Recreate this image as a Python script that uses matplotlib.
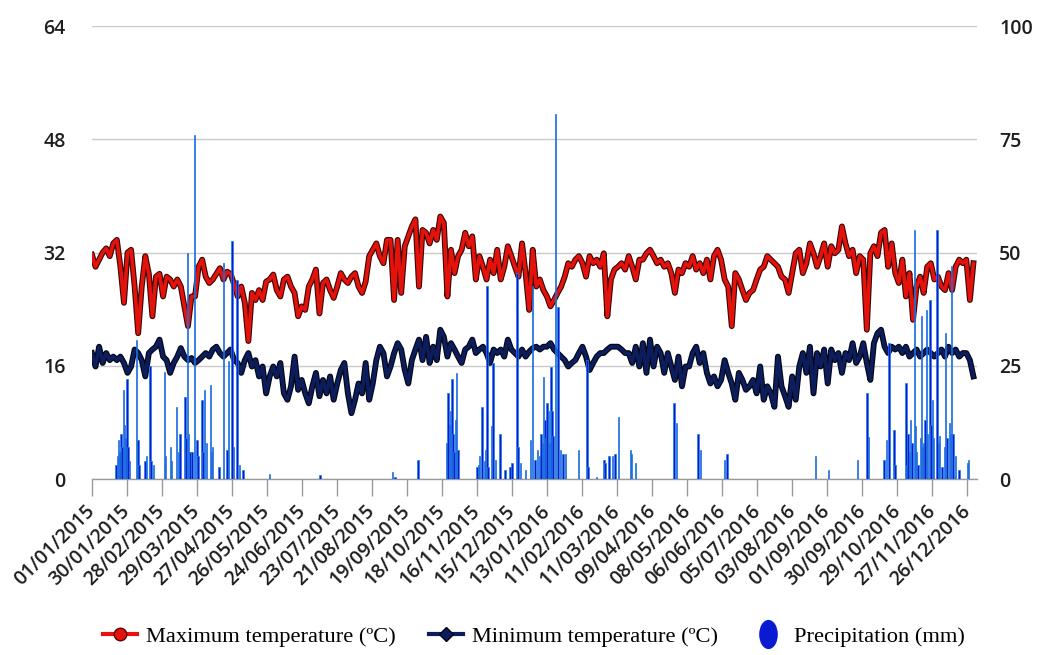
import numpy as np
import pandas as pd
import matplotlib
matplotlib.use("Agg")
import matplotlib.pyplot as plt
import matplotlib.patheffects as pe
from matplotlib.lines import Line2D
from matplotlib.path import Path

# ---------------- data ----------------
tmax = [31.7, 30, 31, 32, 32.6, 31.5, 33.3, 33.8, 30, 24.9, 32, 32.4, 27.2, 20.6, 27.2, 31.5, 29, 23, 28.6, 29,
        25.8, 28.6, 28.2, 27.2, 28.2, 27.2, 24.4, 21.6, 25.8, 25.8, 30, 31, 28.6, 27.7, 28.2, 29, 29.8, 28.2, 29.3, 29,
        27.5, 25.8,
        27.2, 24.9, 19.5, 26.3, 25.3, 26.7, 25.3, 27.9, 28.2, 28.9, 26.7, 25.8, 28.2, 28.6, 27.2, 26.3, 23, 24.4, 23.9,
        27.2, 28.2, 29.6, 23.4, 27.7, 28.2, 26.7, 25.6, 27.2, 29.1, 28.2, 27.7, 28.6, 29.1, 27.2, 26.3, 27.9, 31.5, 32.4,
        33.3, 31.5, 30.5, 33.8,
        33.8, 25.3, 33.8, 26.3, 32.9, 34.3, 35.7, 36.7, 27.2, 35.2, 34.8, 33.3, 35.2, 33.8, 37.1, 36.2, 25.8, 32.4, 29.1,
        31.5, 32.4, 34.8, 32.9, 34.3, 28.2, 31.5, 30, 28.2, 31, 29.1, 32.4, 28.2, 30, 32.9, 31.5, 30, 28.6, 33.3, 29.1,
        23.9, 32.4, 27.2,
        28.2, 26.7, 25.8, 24.4, 25.3, 26.3, 27.2, 28.6, 30.5, 30, 31, 31.5, 30.5, 28.6, 31.5, 30.5, 31, 30, 31.9, 23,
        28.2, 29.6, 30, 30.5, 29.6, 31.5, 30, 28.2, 31, 31, 31.9, 32.4, 31.5, 30.5, 31, 30, 30.5, 29.1, 26.3, 29.6,
        29.1, 30.5,
        30, 31.5, 29.6, 30.5, 29.1, 31, 28.2, 31.5, 32.4, 31, 28.2, 27.2, 21.6, 29.1, 28.2, 26.7, 25.3, 26.3, 26.7, 28.2,
        29.6, 30, 31.5, 31, 30.5, 30, 28.6, 28.2, 26.3, 29.1, 31.9, 32.4, 29.1, 30.5, 33.3, 31.9, 30, 31.5, 33.3, 30,
        32.9, 31.9,
        32.4, 35.7, 33.3, 31.5, 32.4, 29.1, 31.5, 31, 21.1, 31.9, 32.9, 31.5, 34.8, 35.2, 30, 33.3, 29.1, 27.7, 31, 25.8,
        29.1, 22.5, 27.2, 28.6, 26.3, 30, 30.5, 28.2, 28.6, 27.2, 26.7, 29.1, 26.7, 30, 31, 30.5, 31, 25.3, 30.5]

tmin = [17.8, 15.9, 18.7, 16.4, 17.8, 16.8, 17.3, 16.8, 17.3, 16.4, 15, 15.9, 18.3, 17.8, 16.8, 14.5, 17.8, 18.3, 18.7,
        19.7, 17.3, 16.8, 15, 16.4, 17.3, 18.5, 17.3, 16.8, 17.1, 16.4, 16.8, 17.3, 17.8, 17.3, 18.3, 18.7, 17.8, 17.3,
        17.8, 18.3, 16.8, 16.4,
        15, 16.8, 17.8, 15.9, 16.8, 14.5, 15.9, 12.1, 14.5, 15.9, 14.5, 16.4, 12.1, 11.2, 13.1, 17.3, 12.6, 14, 12.1,
        10.7, 13.1, 15, 11.7, 14, 12.1, 14.5, 11.2, 13.5, 15.4, 16.4, 12.1, 9.3, 11.2, 13.5, 12.1, 16.4, 11.2, 13.5,
        16.8, 18.7, 17.8, 14.5,
        15.9, 17.8, 19.2, 18.3, 15.4, 13.5, 16.8, 18.3, 19.7, 16.8, 20.1, 16.4, 18.7, 16.8, 21.1, 20.1, 17.3, 19.2, 18.3,
        17.3, 16.4, 18.3, 18.7, 19.7, 17.8, 18.3, 18.7, 17.8, 16.4, 18.3, 17.8, 18.3, 17.3, 19.7, 18.3, 17.8, 17.3,
        18.3, 17.3, 18, 18.5, 18.7,
        18.3, 18.7, 18.7, 19.2, 18.3, 17.8, 17.3, 16.8, 15.9, 16.4, 16.8, 17.8, 18.7, 17.3, 15.4, 16.4, 17.3, 17.8, 17.8,
        18.3, 18.7, 18.7, 18.7, 18.3, 17.8, 17.8, 16.4, 18.7, 15.9, 19.2, 15, 19.7, 15.9, 18.7, 17.8, 15, 17.8, 15.9,
        14, 17.3, 13.1, 15.9,
        15.9, 17.8, 18.7, 16.4, 17.8, 15, 13.5, 14.5, 13.1, 14, 16.8, 15, 13.5, 11.2, 15, 14, 12.6, 13.1, 14, 12.1,
        15.9, 11.2, 13.1, 12.1, 10.2, 17.3, 13.1, 11.7, 10.2, 14.5, 11.2, 15.9, 17.8, 15, 18.7, 12.1, 17.8, 15.9, 18.3,
        13.5, 18.3, 16.8,
        17.8, 15, 17.8, 16.8, 19.2, 16.4, 17.3, 19.2, 16.4, 14, 19.2, 20.6, 21.1, 18.7, 17.8, 18.7, 18.3, 18.7, 17.8,
        18.7, 17.3, 17.8, 18.3, 17.3, 17.8, 18.3, 17.8, 17.3, 17.8, 18.3, 17.3, 18.7, 17.8, 18.3, 17.3, 17.8, 17.8,
        16.8, 14.5]

# precipitation: day offset from 01/01/2015 and amount (mm)
precip_day = [20, 21, 22, 23, 24, 25, 26, 27, 28, 29, 30, 31, 37, 38, 39, 44, 45, 48, 49, 51, 60, 61, 65, 66, 70, 72,
              73, 77, 78, 79, 80, 81, 83, 85, 87, 88, 91, 92, 93, 95, 98, 99, 100, 105, 109, 112, 113, 116, 117, 120,
              122, 125, 147, 189, 249, 251, 270,
              294, 295, 296, 297, 298, 299, 300, 301, 302, 303, 319, 320, 321, 323, 325, 326, 327, 328, 331, 332, 334,
              338, 342, 346, 348, 352, 353, 355, 359, 363, 365, 367, 369, 371, 372, 373, 374, 375, 376, 377, 378, 379,
              380, 381, 382, 384, 386, 388, 390, 392, 403, 410, 411, 418, 424, 425, 428, 431, 433, 436, 446, 447, 450,
              482, 484,
              502, 504, 524, 526, 599, 610,
              634, 642, 643, 656, 658, 660, 664, 665, 674, 675, 676, 677, 678, 679, 681, 682, 683, 684, 686, 687, 688,
              689, 690, 691, 692, 694, 695, 696, 697, 700, 701, 702, 704, 706, 707, 708, 710, 711, 712, 713, 715, 718,
              725, 726]
precip_mm = [3, 5, 8.6, 6, 10, 7, 19.7, 12, 9, 22, 7, 4, 30.7, 8.6, 3, 4, 5, 25, 4, 3, 23.7, 5, 7, 4, 16, 6,
             10, 18, 9, 50, 10, 6, 6, 76, 8.6, 5, 17.5, 6, 19.7, 8, 20.8, 6, 7, 2.7, 47.7, 6.4, 26, 52.5, 7, 44,
             3, 2, 1, 0.8, 1.5, 0.5, 4.2,
             8, 19, 12, 15, 22, 10, 6, 13, 23.4, 6.4, 2.7, 3, 5, 16, 4, 6.4, 42.6, 2.7, 11.6, 25.6, 4.2,
             10, 2, 2.7, 3.5, 45.5, 7, 3.5, 2, 8.6, 42.6, 4.2, 6.4, 5, 10, 8, 22.6, 13, 9, 16.7, 15, 8,
             24.8, 15, 9.4, 80.5, 38, 6.4, 5.6, 5.6, 6.4, 26.3, 2.7, 0.5, 4.2, 3.5, 5, 5, 5.6, 13.8, 6.4, 5.6, 3.5,
             16.7, 12.3,
             10, 6.4, 4.2, 5.6, 5, 2,
             4.2, 19, 9.3, 4.2, 8.6, 30, 10.8, 3, 21.2, 3, 10, 6, 13, 8, 55, 11.6, 6, 3, 9, 36, 7,
             8, 13, 37.4, 10, 39.6, 12, 17.5, 9, 55, 8, 9.4, 2.7, 7, 32.2, 9, 12.3, 10, 47, 10, 5, 2,
             3.5, 4.2]

tick_dates = pd.date_range("2015-01-01", periods=26, freq="29D")
left_ticks = [0, 16, 32, 48, 64]
right_ticks = [0, 25, 50, 75, 100]

legend_labels = ["Maximum temperature (\u00baC)", "Minimum temperature (\u00baC)", "Precipitation (mm)"]

# ---------------- figure ----------------
start = pd.Timestamp("2015-01-01")
t_dates = pd.date_range("2015-01-01", "2016-12-31", periods=len(tmax))
p_dates = start + pd.to_timedelta(precip_day, unit="D")

RED = "#e3130c"
NAVY = "#0d1d5c"
BLUE = "#0a1ad2"
BLUE_EDGE = "#1f7fe4"

fig = plt.figure(figsize=(10.37, 6.55), dpi=100)
ax1 = fig.add_axes([0.0887, 0.2687, 0.8535, 0.6913])
ax2 = ax1.twinx()

tick_font = dict(family="Open Sans", size=14, weight="semibold", color="#1e1e1e")

ax1.plot(t_dates, tmin, color=NAVY, lw=2.6, solid_joinstyle="round", zorder=3,
         path_effects=[pe.Stroke(linewidth=4.2, foreground="#000614"), pe.Normal()])
ax1.plot(t_dates, tmax, color=RED, lw=2.6, solid_joinstyle="round", zorder=4,
         path_effects=[pe.Stroke(linewidth=4.2, foreground="#3a0404"), pe.Normal()])

ax2.bar(p_dates, precip_mm, width=1.25, color=BLUE, edgecolor=BLUE_EDGE, linewidth=0.5, zorder=2)

ax1.set_ylim(0, 64)
ax2.set_ylim(0, 100)
ax1.set_xlim(start, start + pd.Timedelta(days=733))

ax1.set_yticks(left_ticks)
ax2.set_yticks(right_ticks)
ax1.set_yticklabels([str(v) for v in left_ticks], fontdict=tick_font)
ax2.set_yticklabels([str(v) for v in right_ticks], fontdict=tick_font)
ax1.tick_params(axis="y", length=0, pad=19)
ax2.tick_params(axis="y", length=0, pad=16)

ax1.set_xticks(tick_dates)
ax1.set_xticklabels([d.strftime("%d/%m/%Y") for d in tick_dates], rotation=45,
                    ha="right", va="center", rotation_mode="anchor", fontdict=tick_font)
ax1.tick_params(axis="x", length=12, width=1, color="#9a9a9a", pad=9)

ax1.yaxis.grid(True, color="#c9c9c9", lw=1)
ax1.set_axisbelow(True)
for ax in (ax1, ax2):
    for s in ("top", "left", "right"):
        ax.spines[s].set_visible(False)
ax2.spines["bottom"].set_visible(False)
ax1.spines["bottom"].set_color("#9a9a9a")
ax1.spines["bottom"].set_linewidth(1)

# legend
circ = Path.unit_circle()
ellipse = Path(circ.vertices * np.array([0.62, 1.0]), circ.codes)
handles = [
    Line2D([0], [0], color=RED, lw=3, marker="o", markersize=9, markerfacecolor=RED,
           markeredgecolor="#5a0000", markeredgewidth=1),
    Line2D([0], [0], color=NAVY, lw=3, marker="D", markersize=7, markerfacecolor=NAVY,
           markeredgecolor="#000614", markeredgewidth=1),
    Line2D([0], [0], color=BLUE, lw=0, marker=ellipse, markersize=20, markerfacecolor=BLUE,
           markeredgecolor=BLUE),
]
fig.legend(handles, legend_labels, loc="center", bbox_to_anchor=(0.515, 0.028), ncol=3,
           frameon=False, handlelength=1.5, handletextpad=0.4, columnspacing=1.5,
           prop=dict(family="Liberation Serif", size=16.2))

fig.savefig("out.png", dpi=100)
